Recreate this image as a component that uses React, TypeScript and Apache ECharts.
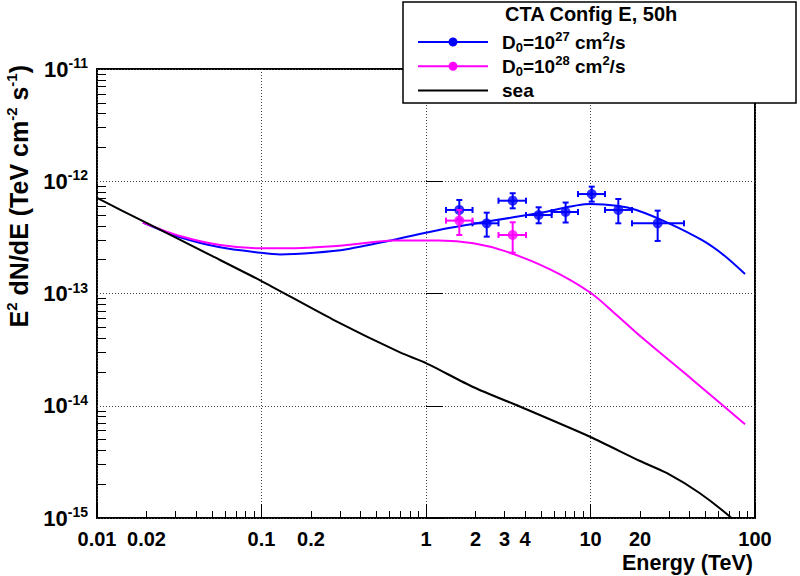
import React, { useEffect, useRef } from 'react';
import * as echarts from 'echarts';

const FONT = '"Liberation Sans", Arial, Helvetica, sans-serif';

// ---- model curves (energy in TeV, E^2 dN/dE in TeV cm^-2 s^-1) ----
const blueCurveE = [0.019, 0.032, 0.056, 0.098, 0.13, 0.21, 0.33, 0.63, 1.2, 2.35, 4.9, 10, 14.5, 19, 30, 48, 65, 87];
const blueCurveF = [4.28e-13, 3.17e-13, 2.58e-13, 2.31e-13, 2.23e-13, 2.31e-13, 2.48e-13, 3.0e-13, 3.68e-13, 4.37e-13, 5.21e-13, 6.27e-13, 6.05e-13, 5.55e-13, 4.22e-13, 2.97e-13, 2.18e-13, 1.49e-13];

const magentaCurveE = [0.019, 0.032, 0.056, 0.098, 0.14, 0.33, 0.63, 1.2, 1.94, 3.09, 5.68, 10, 14.4, 20.8, 42, 87];
const magentaCurveF = [4.28e-13, 3.25e-13, 2.7e-13, 2.53e-13, 2.53e-13, 2.7e-13, 2.96e-13, 2.96e-13, 2.8e-13, 2.36e-13, 1.64e-13, 1.016e-13, 6.44e-14, 3.99e-14, 1.69e-14, 6.84e-15];

const seaE = [0.01, 0.02, 0.05, 0.1, 0.27, 0.7, 1, 1.93, 3.9, 10, 20, 29, 46, 72, 100];
const seaF = [7.1e-13, 4.25e-13, 2.16e-13, 1.29e-13, 5.89e-14, 2.97e-14, 2.4e-14, 1.47e-14, 9.55e-15, 5.27e-15, 3.22e-15, 2.52e-15, 1.67e-15, 1.0e-15, 6.3e-16];

// ---- simulated CTA data points ----
const blueDataE = [1.594, 2.339, 3.365, 4.84, 7.06, 10.17, 14.76, 25.6];
const blueDataElo = [1.323, 1.918, 2.759, 4.055, 5.809, 8.395, 12.25, 17.88];
const blueDataEhi = [1.918, 2.759, 4.055, 5.809, 8.395, 12.25, 17.88, 37.0];
const blueDataF = [5.55e-13, 4.22e-13, 6.71e-13, 5.0e-13, 5.32e-13, 7.69e-13, 5.55e-13, 4.22e-13];
const blueDataFlo = [4.58e-13, 3.21e-13, 5.74e-13, 4.22e-13, 4.29e-13, 6.58e-13, 4.22e-13, 2.94e-13];
const blueDataFhi = [6.81e-13, 5.25e-13, 7.82e-13, 5.86e-13, 6.46e-13, 8.95e-13, 6.95e-13, 5.47e-13];

const magDataE = [1.594, 3.365];
const magDataElo = [1.323, 2.759];
const magDataEhi = [1.918, 4.055];
const magDataF = [4.46e-13, 3.32e-13];
const magDataFlo = [3.32e-13, 2.31e-13];
const magDataFhi = [5.55e-13, 4.31e-13];

// ---- axes ----
const xLabelValues = [0.01, 0.02, 0.1, 0.2, 1, 2, 3, 4, 10, 20, 100];
const xDecades = [-2, -1, 0, 1, 2];
const yDecades = [-15, -14, -13, -12, -11];
const minorMultipliers = [2, 3, 4, 5, 6, 7, 8, 9];

const NAME27 = 'D0=1e27';
const NAME28 = 'D0=1e28';
const NAMESEA = 'sea';
const legendLabels: Record<string, string> = {
  [NAME27]: 'D{sub|0}=10{sup|27} cm{sup|2}/s',
  [NAME28]: 'D{sub|0}=10{sup|28} cm{sup|2}/s',
  [NAMESEA]: 'sea',
};

// legend icons: 79x12 box (invisible corner points fix the box), 70px line, marker
const ICON_BOX = 'M0,0L0,0M79,12L79,12';
const ICON_LINE = 'M0,5L70,5L70,7L0,7Z';
const ICON_MARK = 'M39.5,6A4.5,4.5,0,1,1,30.5,6A4.5,4.5,0,1,1,39.5,6Z';
const ICON_LINE_MARK = 'path://' + ICON_BOX + ICON_LINE + ICON_MARK;
const ICON_LINE_ONLY = 'path://' + ICON_BOX + ICON_LINE;

const BLUE = '#0000ff';
const MAGENTA = '#ff00ff';

function minorTicks(decades: number[]) {
  const out: number[] = [];
  for (let i = 0; i < decades.length - 1; i++) {
    for (const m of minorMultipliers) out.push(decades[i] + Math.log10(m));
  }
  return out;
}

function zip2(a: number[], b: number[]) {
  return a.map((v, i) => [v, b[i]]);
}

function errData(e: number[], f: number[], elo: number[], ehi: number[], flo: number[], fhi: number[]) {
  return e.map((v, i) => [v, f[i], elo[i], ehi[i], flo[i], fhi[i]]);
}

function errorBarRenderer(color: string) {
  return (params: any, api: any) => {
    const x = api.value(0);
    const y = api.value(1);
    const c = api.coord([x, y]);
    const l = api.coord([api.value(2), y]);
    const r = api.coord([api.value(3), y]);
    const b = api.coord([x, api.value(4)]);
    const t = api.coord([x, api.value(5)]);
    const cap = 3;
    const ln = (x1: number, y1: number, x2: number, y2: number) => ({
      type: 'line',
      shape: { x1, y1, x2, y2 },
      style: { stroke: color, lineWidth: 2 },
    });
    return {
      type: 'group',
      children: [
        ln(l[0], l[1], r[0], r[1]),
        ln(c[0], b[1], c[0], t[1]),
        ln(l[0], l[1] - cap, l[0], l[1] + cap),
        ln(r[0], r[1] - cap, r[0], r[1] + cap),
        ln(c[0] - cap, b[1], c[0] + cap, b[1]),
        ln(c[0] - cap, t[1], c[0] + cap, t[1]),
      ],
    };
  };
}

export default function App() {
  const ref = useRef<HTMLDivElement>(null);

  useEffect(() => {
    if (!ref.current) return;
    const chart = echarts.init(ref.current, undefined, { renderer: 'svg' });

    const tickLabelStyle = {
      fontFamily: FONT,
      fontSize: 20,
      fontWeight: 'bold' as const,
      color: '#000',
    };

    const option: any = {
      animation: false,
      backgroundColor: '#fff',
      title: {
        text: 'CTA Config E, 50h',
        left: 505,
        top: 4,
        padding: 0,
        z: 12,
        textStyle: { fontFamily: FONT, fontSize: 20, fontWeight: 'bold', color: '#000' },
      },
      grid: {
        left: 97,
        top: 69,
        right: 45,
        bottom: 58,
        show: true,
        borderColor: '#000',
        borderWidth: 2,
        backgroundColor: 'transparent',
      },
      legend: {
        orient: 'vertical',
        left: 418,
        top: 30,
        padding: 0,
        itemWidth: 79,
        itemHeight: 12,
        itemGap: 0.3,
        selectedMode: false,
        symbolKeepAspect: true,
        z: 12,
        data: [
          { name: NAME27, icon: ICON_LINE_MARK },
          { name: NAME28, icon: ICON_LINE_MARK },
          { name: NAMESEA, icon: ICON_LINE_ONLY },
        ],
        formatter: (name: string) => legendLabels[name],
        textStyle: {
          fontFamily: FONT,
          fontSize: 19,
          fontWeight: 'bold',
          color: '#000',
          lineHeight: 24,
          rich: {
            sub: { fontFamily: FONT, fontSize: 13, fontWeight: 'bold', color: '#000', lineHeight: 10, verticalAlign: 'bottom' },
            sup: { fontFamily: FONT, fontSize: 13, fontWeight: 'bold', color: '#000', lineHeight: 10, verticalAlign: 'top' },
          },
        },
      },
      xAxis: [
        {
          type: 'log',
          logBase: 10,
          min: 0.01,
          max: 100,
          splitNumber: 4,
          position: 'bottom',
          axisLine: { show: false },
          axisTick: { show: false },
          axisLabel: { show: false },
          splitLine: { show: true, lineStyle: { color: '#444', type: [1, 2], width: 1 } },
        },
        {
          type: 'value',
          min: -2,
          max: 2,
          position: 'bottom',
          axisLine: { show: false },
          splitLine: { show: false },
          axisTick: {
            show: true,
            inside: true,
            length: 14,
            customValues: xDecades,
            lineStyle: { color: '#000', width: 1 },
          },
          axisLabel: {
            show: true,
            customValues: xLabelValues.map((v) => Math.log10(v)),
            margin: 11,
            formatter: (v: number) => String(parseFloat(Math.pow(10, v).toPrecision(3))),
            ...tickLabelStyle,
          },
        },
        {
          type: 'value',
          min: -2,
          max: 2,
          position: 'bottom',
          axisLine: { show: false },
          splitLine: { show: false },
          axisLabel: { show: false },
          axisTick: {
            show: true,
            inside: true,
            length: 7,
            customValues: minorTicks(xDecades),
            lineStyle: { color: '#000', width: 1 },
          },
        },
      ],
      yAxis: [
        {
          type: 'log',
          logBase: 10,
          min: 1e-15,
          max: 1e-11,
          splitNumber: 4,
          position: 'left',
          axisLine: { show: false },
          axisTick: { show: false },
          axisLabel: { show: false },
          splitLine: { show: true, lineStyle: { color: '#444', type: [1, 2], width: 1 } },
        },
        {
          type: 'value',
          min: -15,
          max: -11,
          position: 'left',
          axisLine: { show: false },
          splitLine: { show: false },
          axisTick: {
            show: true,
            inside: true,
            length: 17,
            customValues: yDecades,
            lineStyle: { color: '#000', width: 1 },
          },
          axisLabel: {
            show: true,
            customValues: yDecades,
            margin: 9,
            formatter: (v: number) => `10{sup|${Math.round(v)}}`,
            fontFamily: FONT,
            fontSize: 22,
            fontWeight: 'bold',
            color: '#000',
            lineHeight: 26,
            rich: {
              sup: { fontFamily: FONT, fontSize: 14, fontWeight: 'bold', color: '#000', lineHeight: 11, verticalAlign: 'top' },
            },
          },
        },
        {
          type: 'value',
          min: -15,
          max: -11,
          position: 'left',
          axisLine: { show: false },
          splitLine: { show: false },
          axisLabel: { show: false },
          axisTick: {
            show: true,
            inside: true,
            length: 9,
            customValues: minorTicks(yDecades),
            lineStyle: { color: '#000', width: 1 },
          },
        },
      ],
      graphic: {
        elements: [
          {
            type: 'rect',
            z: 8,
            shape: { x: 403, y: 2, width: 393, height: 101 },
            style: { fill: '#fff', stroke: '#000', lineWidth: 1.5 },
          },
          {
            type: 'text',
            z: 8,
            x: 19,
            y: 65,
            rotation: Math.PI / 2,
            style: {
              text: 'E{sup|2} dN/dE (TeV cm{sup|-2} s{sup|-1})',
              fontFamily: FONT,
              fontSize: 25,
              fontWeight: 'bold',
              fill: '#000',
              align: 'right',
              verticalAlign: 'middle',
              lineHeight: 30,
              rich: {
                sup: { fontFamily: FONT, fontSize: 15, fontWeight: 'bold', fill: '#000', lineHeight: 13, verticalAlign: 'top' },
              },
            },
          },
          {
            type: 'text',
            z: 8,
            x: 753,
            y: 563,
            style: {
              text: 'Energy (TeV)',
              fontFamily: FONT,
              fontSize: 21.5,
              fontWeight: 'bold',
              fill: '#000',
              align: 'right',
              verticalAlign: 'middle',
            },
          },
        ],
      },
      series: [
        {
          name: NAME27,
          type: 'line',
          data: zip2(blueCurveE, blueCurveF),
          smooth: 0.3,
          showSymbol: false,
          symbol: 'circle',
          symbolSize: 9,
          color: BLUE,
          lineStyle: { color: BLUE, width: 2 },
          itemStyle: { color: BLUE },
        },
        {
          name: NAME28,
          type: 'line',
          data: zip2(magentaCurveE, magentaCurveF),
          smooth: 0.3,
          showSymbol: false,
          symbol: 'circle',
          symbolSize: 9,
          color: MAGENTA,
          lineStyle: { color: MAGENTA, width: 2 },
          itemStyle: { color: MAGENTA },
        },
        {
          name: NAMESEA,
          type: 'line',
          data: zip2(seaE, seaF),
          smooth: 0.2,
          showSymbol: false,
          symbol: 'none',
          color: '#000',
          lineStyle: { color: '#000', width: 2 },
          itemStyle: { color: '#000' },
        },
        {
          name: 'blue-err',
          type: 'custom',
          renderItem: errorBarRenderer(BLUE),
          data: errData(blueDataE, blueDataF, blueDataElo, blueDataEhi, blueDataFlo, blueDataFhi),
          encode: { x: 0, y: 1 },
          z: 3,
        },
        {
          name: 'blue-pts',
          type: 'scatter',
          data: zip2(blueDataE, blueDataF),
          symbol: 'circle',
          symbolSize: 10,
          itemStyle: { color: BLUE },
          z: 3,
        },
        {
          name: 'mag-err',
          type: 'custom',
          renderItem: errorBarRenderer(MAGENTA),
          data: errData(magDataE, magDataF, magDataElo, magDataEhi, magDataFlo, magDataFhi),
          encode: { x: 0, y: 1 },
          z: 4,
        },
        {
          name: 'mag-pts',
          type: 'scatter',
          data: zip2(magDataE, magDataF),
          symbol: 'circle',
          symbolSize: 10,
          itemStyle: { color: MAGENTA },
          z: 4,
        },
      ],
    };

    chart.setOption(option);
    return () => chart.dispose();
  }, []);

  return (
    <div
      ref={ref}
      style={{ position: 'fixed', left: 0, top: 0, width: 800, height: 576, background: '#fff' }}
    />
  );
}
